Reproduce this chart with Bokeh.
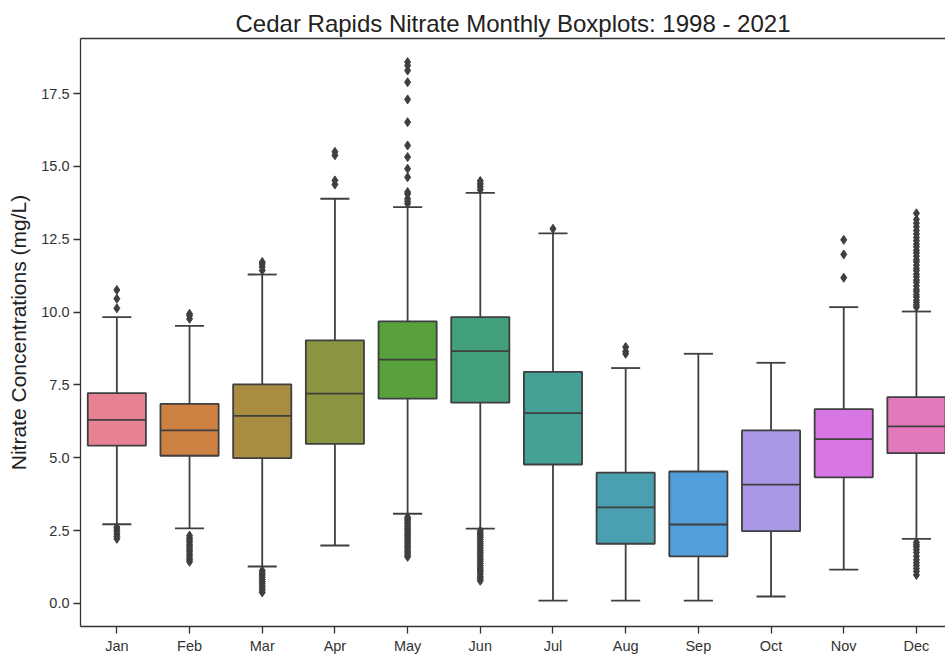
from bokeh.plotting import figure
from bokeh.models import FixedTicker, LinearAxis, Range1d, ColumnDataSource, NumeralTickFormatter
from bokeh.embed import file_html
from bokeh.resources import INLINE

months = ["Jan", "Feb", "Mar", "Apr", "May", "Jun", "Jul", "Aug", "Sep", "Oct", "Nov", "Dec"]
whisk_lo = [2.72, 2.58, 1.27, 1.99, 3.08, 2.57, 0.10, 0.10, 0.10, 0.24, 1.16, 2.22]
q1 = [5.42, 5.07, 4.99, 5.48, 7.03, 6.89, 4.77, 2.05, 1.62, 2.48, 4.33, 5.16]
median = [6.30, 5.94, 6.44, 7.20, 8.37, 8.66, 6.53, 3.30, 2.71, 4.08, 5.64, 6.08]
q3 = [7.22, 6.85, 7.52, 9.03, 9.68, 9.83, 7.95, 4.49, 4.53, 5.94, 6.67, 7.08]
whisk_hi = [9.83, 9.53, 11.29, 13.89, 13.60, 14.09, 12.70, 8.08, 8.57, 8.26, 10.17, 10.02]
colors = ["#e68294", "#cd8244", "#a98c40", "#8b9440", "#58a03c", "#42a07c",
          "#45a096", "#4a9fb1", "#519ed8", "#aa97e6", "#d877e3", "#e379ba"]

out_jan = [10.13, 10.46, 10.76, 2.62, 2.55, 2.47, 2.38, 2.30, 2.22]
out_feb = [9.77, 9.88, 9.94, 2.33, 2.25, 2.18, 2.10, 2.02, 1.95, 1.87, 1.80, 1.72, 1.65, 1.57, 1.50, 1.43]
out_mar = [11.43, 11.55, 11.65, 11.72, 1.13, 1.05, 0.98, 0.90, 0.82, 0.75, 0.68, 0.60, 0.52, 0.45, 0.38]
out_apr = [14.38, 14.52, 15.38, 15.50]
out_may = [13.72, 13.80, 13.89, 14.05, 14.12, 14.63, 14.92, 15.32, 15.72, 16.52, 17.30, 17.89,
           18.29, 18.46, 18.58, 2.96, 2.90, 2.85, 2.78, 2.72, 2.65, 2.58, 2.52, 2.45, 2.38, 2.32,
           2.25, 2.18, 2.12, 2.05, 1.98, 1.92, 1.85, 1.78, 1.72, 1.65, 1.60]
out_jun = [14.20, 14.30, 14.40, 14.50, 2.50, 2.42, 2.35, 2.28, 2.20, 2.12, 2.05, 1.98, 1.90,
           1.82, 1.75, 1.68, 1.60, 1.52, 1.45, 1.38, 1.30, 1.22, 1.15, 1.08, 1.00, 0.92, 0.85, 0.78]
out_jul = [12.86]
out_aug = [8.57, 8.65, 8.80]
out_sep = []
out_oct = []
out_nov = [11.18, 11.98, 12.48]
out_dec = [10.17, 10.24, 10.33, 10.41, 10.52, 10.60, 10.71, 10.78, 10.90, 11.02, 11.10, 11.21,
           11.30, 11.42, 11.50, 11.61, 11.73, 11.80, 11.92, 12.03, 12.12, 12.24, 12.33, 12.45,
           12.56, 12.68, 12.80, 12.93, 13.05, 13.18, 13.39, 2.10, 2.02, 1.95, 1.85, 1.75, 1.62,
           1.50, 1.40, 1.30, 1.20, 1.10, 0.98]
outliers = [out_jan, out_feb, out_mar, out_apr, out_may, out_jun,
            out_jul, out_aug, out_sep, out_oct, out_nov, out_dec]

y_ticks = [0.0, 2.5, 5.0, 7.5, 10.0, 12.5, 15.0, 17.5]

EDGE = "#3f3f3f"
FONT = "Liberation Sans"
xs = list(range(len(months)))
box_w = 0.8
cap_w = 0.4

src = ColumnDataSource(dict(
    x=xs, q1=q1, med=median, q3=q3, lo=whisk_lo, hi=whisk_hi, color=colors,
    bx0=[x - box_w / 2 for x in xs], bx1=[x + box_w / 2 for x in xs],
    cx0=[x - cap_w / 2 for x in xs], cx1=[x + cap_w / 2 for x in xs],
))

fx, fy = [], []
for i, vals in enumerate(outliers):
    for v in vals:
        fx.append(i)
        fy.append(v)

p = figure(width=945, height=657, x_range=Range1d(-0.5, 11.4), y_range=Range1d(-0.79, 19.39),
           output_backend="svg", toolbar_location=None,
           title="Cedar Rapids Nitrate Monthly Boxplots: 1998 - 2021",
           min_border_left=80, min_border_right=0, min_border_top=38, min_border_bottom=31)
p.outline_line_color = None
p.background_fill_color = "white"
p.border_fill_color = "white"
p.xgrid.grid_line_color = None
p.ygrid.grid_line_color = None

p.title.align = "center"
p.title.offset = 6
p.title.text_font = FONT
p.title.text_font_size = "24px"
p.title.text_font_style = "normal"
p.title.text_color = "#222222"
p.title.standoff = 4

# whiskers and caps
p.segment(x0="x", y0="q3", x1="x", y1="hi", source=src, line_color=EDGE, line_width=1.8)
p.segment(x0="x", y0="q1", x1="x", y1="lo", source=src, line_color=EDGE, line_width=1.8)
p.segment(x0="cx0", y0="hi", x1="cx1", y1="hi", source=src, line_color=EDGE, line_width=1.8)
p.segment(x0="cx0", y0="lo", x1="cx1", y1="lo", source=src, line_color=EDGE, line_width=1.8)
# boxes
p.vbar(x="x", width=box_w, bottom="q1", top="q3", source=src, fill_color="color",
       line_color=EDGE, line_width=1.8)
p.segment(x0="bx0", y0="med", x1="bx1", y1="med", source=src, line_color=EDGE, line_width=1.8)
# fliers
p.scatter(fx, fy, marker="diamond", size=9, fill_color=EDGE, line_color=EDGE)

for ax in (p.xaxis[0], p.yaxis[0]):
    ax.axis_line_color = "#333333"
    ax.axis_line_width = 1.3
    ax.major_tick_line_color = "#333333"
    ax.major_tick_line_width = 1.3
    ax.major_tick_out = 7
    ax.major_tick_in = 0
    ax.minor_tick_line_color = None
    ax.major_label_text_font = FONT
    ax.major_label_text_font_size = "14.5px"
    ax.major_label_text_color = "#333333"
    ax.major_label_standoff = 4

p.xaxis[0].ticker = FixedTicker(ticks=xs)
p.xaxis[0].major_label_overrides = {i: m for i, m in enumerate(months)}
p.yaxis[0].ticker = FixedTicker(ticks=y_ticks)
p.yaxis[0].formatter = NumeralTickFormatter(format="0.0")
p.yaxis[0].axis_label = "Nitrate Concentrations (mg/L)"
p.yaxis[0].axis_label_text_font = FONT
p.yaxis[0].axis_label_text_font_size = "21px"
p.yaxis[0].axis_label_text_font_style = "normal"
p.yaxis[0].axis_label_text_color = "#222222"
p.yaxis[0].axis_label_standoff = 8

top = LinearAxis(ticker=FixedTicker(ticks=[]), major_label_text_font_size="0px",
                 axis_line_color="#333333", axis_line_width=1.3,
                 major_tick_line_color=None, minor_tick_line_color=None,
                 major_label_standoff=0)
p.add_layout(top, "above")

open("out.html", "w").write(file_html(p, INLINE))
